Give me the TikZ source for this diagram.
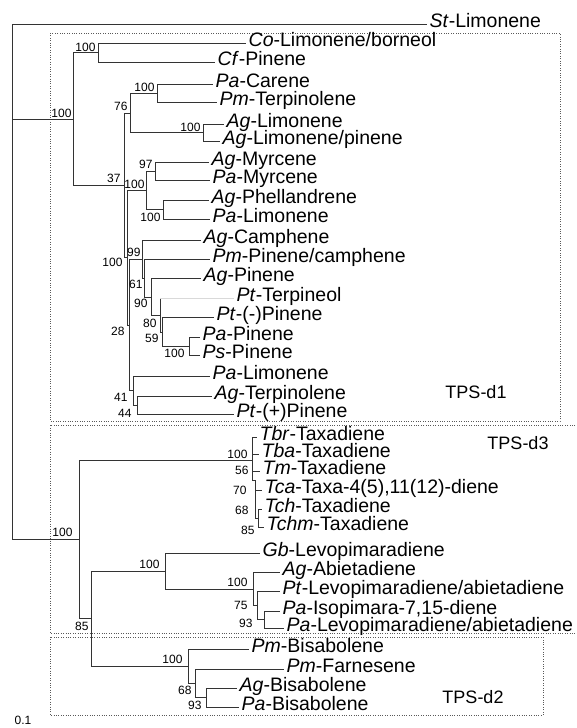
\documentclass[tikz,border=0pt]{standalone}
\usepackage{fontspec}
\setmainfont{Liberation Sans}
\begin{document}
\begin{tikzpicture}[x=1pt,y=-1pt,
  br/.style={draw=black!80, line width=0.8pt},
  faint/.style={draw=black!15, line width=0.8pt},
  leaf/.style={anchor=west, inner xsep=2.5pt, inner ysep=0pt, text height=7pt, text depth=0pt, font=\fontsize{19.5}{20}\selectfont},
  bs/.style={anchor=east, inner sep=0.3pt, font=\fontsize{12}{12}\selectfont},
  dotbox/.style={draw=black!65, line width=0.6pt, dash pattern=on 0.8pt off 1.6pt},
  clade/.style={font=\fontsize{18}{18}\selectfont}]
\useasboundingbox (0,0) rectangle (577,728);

% dotted clade boxes
\draw[dotbox] (50,33) rectangle (560,421);
\draw[dotbox] (580,425) -- (50,425) -- (50,633) -- (580,633);
\draw[dotbox] (50,637) rectangle (543,715);
\node[clade] (d1lab) at (476,392) {TPS-d1};
\node[clade] (d3lab) at (518,443) {TPS-d3};
\node[clade] (d2lab) at (473,697) {TPS-d2};
\node[font=\fontsize{12}{12}\selectfont] (scale) at (23,720) {0.1};

% leaves
\node[leaf] (St) at (427,24) {\textit{St}-Limonene};
\node[leaf] (Co) at (246,43) {\textit{Co}-Limonene/borneol};
\node[leaf] (Cf) at (215,62) {\textit{Cf}-Pinene};
\node[leaf] (PaCar) at (213,84) {\textit{Pa}-Carene};
\node[leaf] (PmTer) at (217,102) {\textit{Pm}-Terpinolene};
\node[leaf] (AgLim) at (224,124) {\textit{Ag}-Limonene};
\node[leaf] (AgLP) at (220,141) {\textit{Ag}-Limonene/pinene};
\node[leaf] (AgMyr) at (209,162) {\textit{Ag}-Myrcene};
\node[leaf] (PaMyr) at (210,180) {\textit{Pa}-Myrcene};
\node[leaf] (AgPhe) at (209,200) {\textit{Ag}-Phellandrene};
\node[leaf] (PaLimA) at (210,219) {\textit{Pa}-Limonene};
\node[leaf] (AgCam) at (201,240) {\textit{Ag}-Camphene};
\node[leaf] (PmPC) at (210,259) {\textit{Pm}-Pinene/camphene};
\node[leaf] (AgPin) at (201,278) {\textit{Ag}-Pinene};
\node[leaf] (PtTer) at (234,298) {\textit{Pt}-Terpineol};
\node[leaf] (PtMP) at (214,317) {\textit{Pt}-(-)Pinene};
\node[leaf] (PaPin) at (200,337) {\textit{Pa}-Pinene};
\node[leaf] (PsPin) at (200,355) {\textit{Ps}-Pinene};
\node[leaf] (PaLimB) at (210,376) {\textit{Pa}-Limonene};
\node[leaf] (AgTer) at (212,396) {\textit{Ag}-Terpinolene};
\node[leaf] (PtPP) at (234,414) {\textit{Pt}-(+)Pinene};
\node[leaf] (Tbr) at (257,437) {\textit{Tbr}-Taxadiene};
\node[leaf] (Tba) at (259,454) {\textit{Tba}-Taxadiene};
\node[leaf] (Tm) at (260,471) {\textit{Tm}-Taxadiene};
\node[leaf] (Tca) at (262,490) {\textit{Tca}-Taxa-4(5),11(12)-diene};
\node[leaf] (Tch) at (262,509) {\textit{Tch}-Taxadiene};
\node[leaf] (Tchm) at (264,527) {\textit{Tchm}-Taxadiene};
\node[leaf] (Gb) at (260,553) {\textit{Gb}-Levopimaradiene};
\node[leaf] (AgAb) at (280,572) {\textit{Ag}-Abietadiene};
\node[leaf] (PtLA) at (280,591) {\textit{Pt}-Levopimaradiene/abietadiene};
\node[leaf] (PaIso) at (280,611) {\textit{Pa}-Isopimara-7,15-diene};
\node[leaf] (PaLA) at (284,628) {\textit{Pa}-Levopimaradiene/abietadiene};
\node[leaf] (PmBis) at (249,649) {\textit{Pm}-Bisabolene};
\node[leaf] (PmFar) at (284,669) {\textit{Pm}-Farnesene};
\node[leaf] (AgBis) at (237,688) {\textit{Ag}-Bisabolene};
\node[leaf] (PaBis) at (239,707) {\textit{Pa}-Bisabolene};

% internal nodes
\coordinate (root) at (12,281);
\coordinate (d1) at (73,119);
\coordinate (cc) at (98,52.5);
\coordinate (n37) at (124,185);
\coordinate (n76) at (130,113);
\coordinate (nCT) at (157,93);
\coordinate (nAL) at (203,132.5);
\coordinate (n100b) at (127,257.5);
\coordinate (n145) at (146,190);
\coordinate (n97) at (155,171);
\coordinate (nPL) at (163,209.5);
\coordinate (n28) at (129.5,325);
\coordinate (n99) at (142,259);
\coordinate (n61) at (144,278);
\coordinate (n90) at (151,297);
\coordinate (n80) at (160,315.5);
\coordinate (n59) at (162,332);
\coordinate (nPP) at (189,346);
\coordinate (n41) at (133,390.5);
\coordinate (n44) at (137,405);
\coordinate (n100r) at (79,539);
\coordinate (nTax) at (252,460);
\coordinate (nT70) at (255,480);
\coordinate (nT85) at (258,518);
\coordinate (n85) at (91,618.5);
\coordinate (nDi) at (165,571);
\coordinate (nAb) at (253,589);
\coordinate (n75) at (257,605.5);
\coordinate (n93a) at (264,619.5);
\coordinate (nBis) at (188,666);
\coordinate (n68) at (195,683);
\coordinate (n93b) at (206,697.5);

% branches
\draw[br] (root) |- (St.west);
\draw[br] (root) |- (d1);
\draw[br] (root) |- (n100r);
\draw[br] (d1) |- (cc);
\draw[br] (d1) |- (n37);
\draw[br] (cc) |- (Co.west);
\draw[br] (cc) |- (Cf.west);
\draw[br] (n37) |- (n76);
\draw[br] (n37) |- (n100b);
\draw[br] (n76) |- (nCT);
\draw[br] (n76) |- (nAL);
\draw[br] (nCT) |- (PaCar.west);
\draw[br] (nCT) |- (PmTer.west);
\draw[br] (nAL) |- (AgLim.west);
\draw[br] (nAL) |- (AgLP.west);
\draw[br] (n100b) |- (n145);
\draw[br] (n100b) |- (n28);
\draw[br] (n145) |- (n97);
\draw[br] (n145) |- (nPL);
\draw[br] (n97) |- (AgMyr.west);
\draw[br] (n97) |- (PaMyr.west);
\draw[br] (nPL) |- (AgPhe.west);
\draw[br] (nPL) |- (PaLimA.west);
\draw[br] (n28) |- (n99);
\draw[br] (n28) |- (n41);
\draw[br] (n99) |- (AgCam.west);
\draw[br] (n99) |- (n61);
\draw[br] (n61) |- (PmPC.west);
\draw[br] (n61) |- (n90);
\draw[br] (n90) |- (AgPin.west);
\draw[br] (n90) |- (n80);
\draw[br] (n80) -- (n80 |- PtTer.west) -- ++(3,0);
\draw[faint] (n80 |- PtTer.west) -- (PtTer.west);
\draw[br] (n80) |- (n59);
\draw[br] (n59) |- (PtMP.west);
\draw[br] (n59) |- (nPP);
\draw[br] (nPP) |- (PaPin.west);
\draw[br] (nPP) |- (PsPin.west);
\draw[br] (n41) |- (PaLimB.west);
\draw[br] (n41) |- (n44);
\draw[br] (n44) |- (AgTer.west);
\draw[br] (n44) |- (PtPP.west);

\draw[br] (n100r) |- (nTax);
\draw[br] (n100r) |- (n85);
\draw[br] (nTax) |- (Tbr.west);
\draw[br] (nTax) |- (Tba.west);
\draw[br] (nTax) |- (Tm.west);
\draw[br] (nTax) |- (nT70);
\draw[br] (nT70) |- (Tca.west);
\draw[br] (nT70) |- (nT85);
\draw[br] (nT85) |- (Tch.west);
\draw[br] (nT85) |- (Tchm.west);
\draw[br] (n85) |- (nDi);
\draw[br] (n85) |- (nBis);
\draw[br] (nDi) |- (Gb.west);
\draw[br] (nDi) |- (nAb);
\draw[br] (nAb) |- (AgAb.west);
\draw[br] (nAb) |- (n75);
\draw[br] (n75) |- (PtLA.west);
\draw[br] (n75) |- (n93a);
\draw[br] (n93a) |- (PaIso.west);
\draw[br] (n93a) |- (PaLA.west);
\draw[br] (nBis) |- (PmBis.west);
\draw[br] (nBis) |- (n68);
\draw[br] (n68) |- (PmFar.west);
\draw[br] (n68) |- (n93b);
\draw[br] (n93b) |- (AgBis.west);
\draw[br] (n93b) |- (PaBis.west);

% bootstrap values
\node[bs] (b1) at (72,113) {100};
\node[bs] (b2) at (96,47) {100};
\node[bs] (b3) at (128,106) {76};
\node[bs] (b4) at (155,87) {100};
\node[bs] (b5) at (201,127) {100};
\node[bs] (b6) at (121,178) {37};
\node[bs] (b7) at (145,184) {100};
\node[bs] (b8) at (153,164) {97};
\node[bs] (b9) at (161,217) {100};
\node[bs] (b10) at (123,262) {100};
\node[bs] (b11) at (141,252) {99};
\node[bs] (b12) at (143,284) {61};
\node[bs] (b13) at (148,303) {90};
\node[bs] (b14) at (157,323) {80};
\node[bs] (b15) at (159,338) {59};
\node[bs] (b16) at (185,353) {100};
\node[bs] (b17) at (125,331) {28};
\node[bs] (b18) at (128,397) {41};
\node[bs] (b19) at (132,413) {44};
\node[bs] (b20) at (73,532) {100};
\node[bs] (b21) at (248,454) {100};
\node[bs] (b22) at (249,470) {56};
\node[bs] (b23) at (247,490) {70};
\node[bs] (b24) at (249,510) {68};
\node[bs] (b25) at (255,530) {85};
\node[bs] (b26) at (160,564) {100};
\node[bs] (b27) at (248,582) {100};
\node[bs] (b28) at (248,605) {75};
\node[bs] (b29) at (253,623) {93};
\node[bs] (b30) at (89,626) {85};
\node[bs] (b31) at (183,659) {100};
\node[bs] (b32) at (192,690) {68};
\node[bs] (b33) at (202,705) {93};
\end{tikzpicture}
\end{document}
